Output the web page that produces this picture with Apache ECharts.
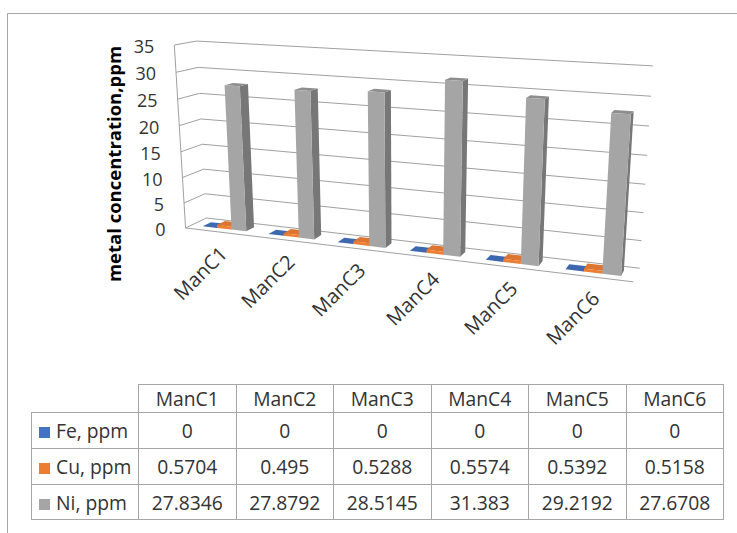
<!DOCTYPE html>
<html>
<head>
<meta charset="utf-8">
<script src="https://cdn.jsdelivr.net/npm/echarts@6/dist/echarts.min.js"></script>
<style>
html,body{margin:0;padding:0;background:#fff;}
#wrap{position:relative;width:737px;height:533px;overflow:hidden;background:#fff;}
#chart{position:absolute;left:0;top:0;width:737px;height:533px;}
#tbl{position:absolute;left:31px;top:384px;border-collapse:collapse;table-layout:fixed;
  font-family:"Open Sans","Noto Sans",sans-serif;font-size:19.3px;color:#333;}
#tbl td{border:1px solid #a6a6a6;text-align:center;padding:0;white-space:nowrap;overflow:hidden;}
#tbl td.key{text-align:left;}
#tbl td.corner{border-top:none;border-left:none;}
.sw{display:inline-block;width:11px;height:11px;margin:0 6px 0 7px;vertical-align:0px;}
</style>
</head>
<body>
<div id="wrap">
  <div id="chart"></div>
  <table id="tbl"></table>
</div>
<script>
// ---------------- data ----------------
const categories = ['ManC1', 'ManC2', 'ManC3', 'ManC4', 'ManC5', 'ManC6'];
const feValues = [0, 0, 0, 0, 0, 0];
const cuValues = [0.5704, 0.495, 0.5288, 0.5574, 0.5392, 0.5158];
const niValues = [27.8346, 27.8792, 28.5145, 31.383, 29.2192, 27.6708];
const seriesNames = ['Fe, ppm', 'Cu, ppm', 'Ni, ppm'];
const yTicks = [0, 5, 10, 15, 20, 25, 30, 35];

// ---------------- style / layout ----------------
const FONT = '"Open Sans", "Noto Sans", sans-serif';
const GRID_COLOR = '#a0a0a0';
const PALETTE = [
  { front: '#4472C4', top: '#3e67b1', side: '#2f528f' },
  { front: '#ED7D31', top: '#dd7430', side: '#ae5a21' },
  { front: '#A5A5A5', top: '#8e8e8e', side: '#777777' }
];
const Z0 = 0.3, Z1 = 0.7;   // bar depth inside the floor
// anchor points of the 3D box (X along categories, Y value fraction, Z depth) -> screen
const ANCHORS = [
  [0, 0, 0, 187, 227],
  [1, 0, 0, 633, 283],
  [0, 1, 0, 173, 45],
  [0, 0, 1, 205, 219],
  [1, 0, 1, 640, 267],
  [0, 1, 1, 198, 41],
  [1, 1, 1, 653, 66]
];

function solveProjection(pairs) {
  const cx = 400, cy = 160;
  const A = [], b = [];
  pairs.forEach(function (q) {
    const X = q[0], Y = q[1], Z = q[2], x = q[3] - cx, y = q[4] - cy;
    A.push([X, Y, Z, 1, 0, 0, 0, 0, -x * X, -x * Y, -x * Z]); b.push(x);
    A.push([0, 0, 0, 0, X, Y, Z, 1, -y * X, -y * Y, -y * Z]); b.push(y);
  });
  const n = 11;
  const M = [];
  for (let i = 0; i < n; i++) {
    const row = [];
    for (let j = 0; j < n; j++) {
      let s = 0;
      for (let k = 0; k < A.length; k++) s += A[k][i] * A[k][j];
      row.push(s);
    }
    let r = 0;
    for (let k = 0; k < A.length; k++) r += A[k][i] * b[k];
    row.push(r);
    M.push(row);
  }
  for (let c = 0; c < n; c++) {
    let piv = c;
    for (let r = c + 1; r < n; r++) if (Math.abs(M[r][c]) > Math.abs(M[piv][c])) piv = r;
    const tmp = M[c]; M[c] = M[piv]; M[piv] = tmp;
    for (let r = 0; r < n; r++) {
      if (r === c) continue;
      const f = M[r][c] / M[c][c];
      for (let k = c; k <= n; k++) M[r][k] -= f * M[c][k];
    }
  }
  const p = M.map(function (row, i) { return row[n] / row[i]; });
  return function (X, Y, Z) {
    const w = p[8] * X + p[9] * Y + p[10] * Z + 1;
    return [(p[0] * X + p[1] * Y + p[2] * Z + p[3]) / w + cx,
            (p[4] * X + p[5] * Y + p[6] * Z + p[7]) / w + cy];
  };
}
const proj = solveProjection(ANCHORS);

function norm(params, pt) {
  const cs = params.coordSys;
  return [(pt[0] - cs.x) / cs.width, (cs.y + cs.height - pt[1]) / cs.height];
}

function wallItem(params, api) {
  const t = api.value(1);
  const v = norm(params, api.coord([0, t]))[1];
  const a = proj(0, v, 0), b = proj(0, v, 1), c = proj(1, v, 1);
  const children = [
    { type: 'polyline', shape: { points: [a, b, c] }, style: { stroke: GRID_COLOR, lineWidth: 1, fill: null } },
    { type: 'text', x: a[0] - 20, y: a[1] + 1,
      style: { text: String(t), font: '18px ' + FONT, fill: '#333', align: 'right', verticalAlign: 'middle' } }
  ];
  if (params.dataIndex === 0) {
    children.push({ type: 'polyline', shape: { points: [proj(0, 0, 0), proj(1, 0, 0)] },
      style: { stroke: GRID_COLOR, lineWidth: 1, fill: null } });
    children.push({ type: 'polyline', shape: { points: [proj(0, 0, 0), proj(0, 1, 0)] },
      style: { stroke: GRID_COLOR, lineWidth: 1, fill: null } });
  }
  return { type: 'group', children: children };
}

function catLabelItem(params, api) {
  const i = api.value(0);
  const u = norm(params, api.coord([i, 0]))[0];
  const a = proj(u, 0, 0);
  return { type: 'text', x: a[0] + 5, y: a[1] + 18, rotation: Math.PI / 4,
    style: { text: categories[i], font: '20px ' + FONT, fill: '#333', align: 'right', verticalAlign: 'middle' } };
}

function barRenderer(s) {
  const col = PALETTE[s];
  return function (params, api) {
    const cs = params.coordSys;
    const i = api.value(0), val = api.value(1);
    const n = norm(params, api.coord([i, val]));
    const bu = api.size([1, 0])[0] / cs.width;
    const w = bu * 2 / 9;
    const x0 = n[0] - bu / 3 + s * w, x1 = x0 + w, v = n[1];
    const front = [proj(x0, 0, Z0), proj(x1, 0, Z0), proj(x1, v, Z0), proj(x0, v, Z0)];
    const side = [proj(x1, 0, Z0), proj(x1, 0, Z1), proj(x1, v, Z1), proj(x1, v, Z0)];
    const top = [proj(x0, v, Z0), proj(x1, v, Z0), proj(x1, v, Z1), proj(x0, v, Z1)];
    return { type: 'group', children: [
      { type: 'polygon', shape: { points: side }, style: { fill: col.side } },
      { type: 'polygon', shape: { points: top }, style: { fill: col.top } },
      { type: 'polygon', shape: { points: front }, style: { fill: col.front } }
    ] };
  };
}

const valueSets = [feValues, cuValues, niValues];
const chart = echarts.init(document.getElementById('chart'), null, { renderer: 'svg' });
chart.setOption({
  animation: false,
  backgroundColor: '#fff',
  grid: { left: 200, right: 100, top: 50, bottom: 300 },
  xAxis: { type: 'category', data: categories, show: false },
  yAxis: { type: 'value', min: 0, max: 35, interval: 5, show: false },
  graphic: [
    { type: 'rect', shape: { x: 7.5, y: 13.5, width: 800, height: 600 },
      style: { fill: null, stroke: '#a6a6a6', lineWidth: 1 }, silent: true },
    { type: 'text', x: 113, y: 164, rotation: Math.PI / 2,
      style: { text: 'metal concentration,ppm', font: 'bold 18.5px ' + FONT, fill: '#000',
        align: 'center', verticalAlign: 'middle' } }
  ],
  series: [
    { type: 'custom', name: 'walls', renderItem: wallItem, data: yTicks.map(function (t) { return [0, t]; }), silent: true },
    { type: 'custom', name: 'catLabels', renderItem: catLabelItem, data: categories.map(function (c, i) { return [i, 0]; }), silent: true }
  ].concat(seriesNames.map(function (name, s) {
    return { type: 'custom', name: name, renderItem: barRenderer(s),
      data: valueSets[s].map(function (v, i) { return [i, v]; }) };
  }))
});

// ---------------- data table ----------------
(function () {
  const tbl = document.getElementById('tbl');
  const colW = [107].concat(categories.map(function () { return 97.5; }));
  let html = '<colgroup>' + colW.map(function (w) { return '<col style="width:' + w + 'px">'; }).join('') + '</colgroup>';
  html += '<tr style="height:26px"><td class="corner"></td>' +
    categories.map(function (c) { return '<td>' + c + '</td>'; }).join('') + '</tr>';
  const rowsH = [36, 36, 35];
  seriesNames.forEach(function (name, s) {
    html += '<tr style="height:' + rowsH[s] + 'px"><td class="key"><span class="sw" style="background:' +
      PALETTE[s].front + '"></span>' + name + '</td>' +
      valueSets[s].map(function (v) { return '<td>' + String(v) + '</td>'; }).join('') + '</tr>';
  });
  tbl.innerHTML = html;
})();
</script>
</body>
</html>
